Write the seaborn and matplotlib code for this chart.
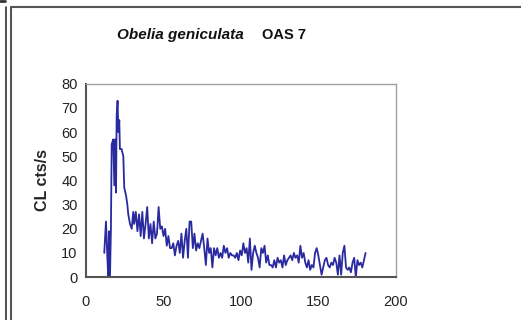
import numpy as np
import pandas as pd
import seaborn as sns
import matplotlib.pyplot as plt
from matplotlib.lines import Line2D

# ---- data ----
head_time = [11.8, 12.9, 13.8, 14.4, 14.8, 15.5, 16.1, 16.6, 17.6, 18.3, 18.9,
             19.4, 19.8, 20.4, 20.9, 21.5, 21.9, 23.0, 24.1, 24.7, 25.8, 26.7,
             27.3, 28.4, 29.5, 30.5]
head_cts = [10, 23, 8, 0, 19, 0, 20, 55, 57, 38, 57,
            35, 67, 73, 60, 65, 53, 53, 50, 37, 34, 30,
            26, 22, 20, 27]

tail_cts = [22, 27, 19, 26, 17, 27, 16, 22, 29, 16, 22, 14, 23, 16, 18, 29,
            20, 21, 17, 20, 13, 17, 12, 12, 14, 9, 13, 15, 10, 18, 8, 15,
            20, 8, 23, 23, 12, 18, 11, 14, 12, 15, 18, 12, 5, 16, 10, 12,
            4, 12, 9, 12, 8, 10, 8, 13, 10, 12, 8, 10, 9, 9, 8, 10,
            7, 11, 9, 14, 10, 12, 6, 16, 3, 10, 13, 10, 8, 4, 12, 10,
            13, 6, 9, 5, 5, 4, 7, 4, 8, 6, 7, 4, 9, 5, 7, 8,
            9, 7, 10, 8, 9, 6, 13, 8, 10, 6, 4, 7, 3, 5, 4, 10,
            12, 9, 5, 1, 4, 7, 8, 5, 4, 6, 5, 8, 6, 1, 9, 1,
            10, 13, 4, 3, 4, 2, 6, 8, 0, 7, 5, 6, 4, 7, 10]
tail_time = np.linspace(31.1, 180.4, len(tail_cts))

df = pd.DataFrame({
    "time": np.concatenate([head_time, tail_time]),
    "cts": np.concatenate([head_cts, tail_cts]),
})

x_ticks = [0, 50, 100, 150, 200]
y_ticks = [0, 10, 20, 30, 40, 50, 60, 70, 80]

sns.set_style("white")
plt.rcParams["font.family"] = ["Liberation Sans", "DejaVu Sans"]

fig = plt.figure(figsize=(5.21, 3.2), dpi=100)
ax = fig.add_axes([0.165, 0.134, 0.595, 0.604])

sns.lineplot(data=df, x="time", y="cts", sort=False, color="#2a2aa0",
             linewidth=1.3, ax=ax)

ax.set_xlim(0, 200)
ax.set_ylim(0, 80)
ax.set_xticks(x_ticks)
ax.set_yticks(y_ticks)
ax.tick_params(axis="both", direction="out", length=4, width=1,
               color="#444444", labelsize=10.5, pad=2, labelcolor="#222222")
ax.tick_params(axis="x", pad=9)
ax.set_xlabel("")
ax.set_ylabel("CL cts/s", fontsize=11.5, fontweight="bold", labelpad=8)

for side in ["left", "bottom"]:
    ax.spines[side].set_color("#555555")
    ax.spines[side].set_linewidth(1.5)
for side in ["top", "right"]:
    ax.spines[side].set_color("#a0a0a0")
    ax.spines[side].set_linewidth(1.0)

fig.text(0.225, 0.892, "Obelia geniculata", fontsize=11, fontweight="bold",
         style="italic", va="center", ha="left", color="#111111")
fig.text(0.502, 0.892, "OAS 7", fontsize=10.5, fontweight="bold",
         va="center", ha="left", color="#111111")

# outer frame lines of the embedded chart
W, H = 521, 320
fig.add_artist(Line2D([5.5 / W, 5.5 / W], [0, 1 - 7 / H], color="#333333", lw=1.2))
fig.add_artist(Line2D([11 / W, 11 / W], [0, 1 - 6.5 / H], color="#555555", lw=1.5))
fig.add_artist(Line2D([11 / W, 1], [1 - 6.5 / H, 1 - 6.5 / H], color="#555555", lw=1.5))
fig.add_artist(Line2D([0, 5 / W], [1 - 1 / H, 1 - 1 / H], color="#333333", lw=2))

fig.savefig("out.png", dpi=100)
